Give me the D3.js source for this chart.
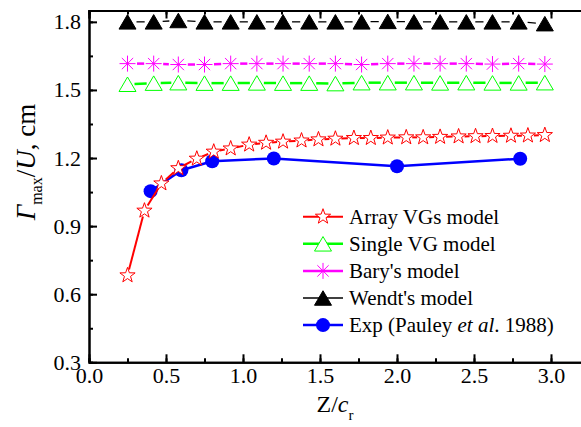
<!DOCTYPE html>
<html>
<head>
<meta charset="utf-8">
<script src="https://cdn.jsdelivr.net/npm/d3@7"></script>
<style>
  body { margin: 0; background: #fff; }
</style>
</head>
<body>
<div id="chart"></div>
<script>
// Data
const arrayX = [0.25, 0.36, 0.47, 0.58, 0.70, 0.81, 0.92, 1.04, 1.15, 1.26, 1.38, 1.49, 1.60, 1.72, 1.83, 1.94, 2.06, 2.17, 2.28, 2.40, 2.51, 2.62, 2.74, 2.85, 2.96];
const arrayY = [0.683, 0.968, 1.088, 1.155, 1.197, 1.228, 1.242, 1.259, 1.267, 1.272, 1.277, 1.282, 1.285, 1.288, 1.288, 1.290, 1.291, 1.291, 1.293, 1.295, 1.296, 1.297, 1.298, 1.299, 1.301];

const modelX = [0.25, 0.42, 0.58, 0.75, 0.92, 1.09, 1.26, 1.43, 1.60, 1.77, 1.94, 2.11, 2.28, 2.45, 2.62, 2.79, 2.96];
const singleY = [1.525, 1.530, 1.532, 1.530, 1.530, 1.531, 1.530, 1.530, 1.528, 1.532, 1.532, 1.532, 1.531, 1.532, 1.531, 1.531, 1.532];
const baryY = [1.616, 1.616, 1.612, 1.612, 1.616, 1.616, 1.616, 1.616, 1.616, 1.612, 1.616, 1.616, 1.616, 1.616, 1.614, 1.616, 1.614];
const wendtY = [1.800, 1.800, 1.806, 1.800, 1.800, 1.800, 1.800, 1.800, 1.800, 1.800, 1.802, 1.800, 1.800, 1.800, 1.800, 1.800, 1.792];

const expX = [0.4, 0.6, 0.8, 1.2, 2.0, 2.8];
const expY = [1.054, 1.146, 1.186, 1.198, 1.164, 1.197];

const xTicks = [0.0, 0.5, 1.0, 1.5, 2.0, 2.5, 3.0];
const yTicks = [0.3, 0.6, 0.9, 1.2, 1.5, 1.8];

const width = 581, height = 427;
const margin = { top: 10.5, left: 89, bottom: 64.7 };
const serif = "'Liberation Serif', 'DejaVu Serif', Tinos, Times, serif";

const svg = d3.select("#chart").append("svg")
  .attr("width", width)
  .attr("height", height)
  .attr("font-family", serif);

const x = d3.scaleLinear().domain([0, 3.2]).range([margin.left, margin.left + 3.2 * 154]);
const y = d3.scaleLinear().domain([0.3, 1.85]).range([height - margin.bottom, margin.top]);

// marker shapes
function starPath(r) {
  const pts = [];
  for (let i = 0; i < 10; i++) {
    const a = -Math.PI / 2 + i * Math.PI / 5;
    const rr = i % 2 === 0 ? r : r * 0.4;
    pts.push([rr * Math.cos(a), rr * Math.sin(a)]);
  }
  return "M" + pts.map(p => p[0].toFixed(2) + "," + p[1].toFixed(2)).join("L") + "Z";
}
function trianglePath(w, h) {
  return `M0,${-h / 2}L${w / 2},${h / 2}L${-w / 2},${h / 2}Z`;
}
function asteriskPath(r) {
  let s = "";
  for (let i = 0; i < 4; i++) {
    const a = i * Math.PI / 4;
    const dx = r * Math.cos(a), dy = r * Math.sin(a);
    s += `M${-dx},${-dy}L${dx},${dy}`;
  }
  return s;
}

const series = [
  { name: "Array VGs model", xs: arrayX, ys: arrayY, color: "#ff0000", lw: 2,
    marker: starPath(8), fill: "#fff", mw: 1, gap: 6 },
  { name: "Single VG model", xs: modelX, ys: singleY, color: "#00ff00", lw: 2.5,
    marker: trianglePath(17, 14.5), fill: "#fff", mw: 1, gap: 7 },
  { name: "Bary's model", xs: modelX, ys: baryY, color: "#ff00ff", lw: 2.5,
    marker: asteriskPath(8), fill: "none", mw: 1, gap: 9.5 },
  { name: "Wendt's model", xs: modelX, ys: wendtY, color: "#000000", lw: 1.3,
    marker: trianglePath(17, 14.5), fill: "#000", mw: 1, gap: 9 },
  { name: "Exp", xs: expX, ys: expY, color: "#0000ff", lw: 2.5,
    marker: "circle", fill: "#0000ff", mw: 0, gap: 0 }
];

function drawMarker(g, s, cx, cy) {
  if (s.marker === "circle") {
    g.append("circle").attr("cx", cx).attr("cy", cy).attr("r", 7)
      .attr("fill", s.fill);
  } else {
    g.append("path").attr("d", s.marker)
      .attr("transform", `translate(${cx},${cy})`)
      .attr("fill", s.fill)
      .attr("stroke", s.color)
      .attr("stroke-width", s.mw);
  }
}

// line segments between markers, leaving a small gap around each marker
function gapSegments(pts, gap) {
  const segs = [];
  for (let j = 0; j < pts.length - 1; j++) {
    const x0 = x(pts[j][0]), y0 = y(pts[j][1]);
    const x1 = x(pts[j + 1][0]), y1 = y(pts[j + 1][1]);
    const len = Math.hypot(x1 - x0, y1 - y0);
    if (len <= 2 * gap + 0.5) continue;
    const ux = (x1 - x0) / len, uy = (y1 - y0) / len;
    segs.push([[x0 + ux * gap, y0 + uy * gap], [x1 - ux * gap, y1 - uy * gap]]);
  }
  return segs;
}

const seg = d3.line();

// draw Exp first, then the models so stars sit above the circles
const drawOrder = [4, 3, 2, 1, 0];
drawOrder.forEach(i => {
  const s = series[i];
  const pts = s.xs.map((v, j) => [v, s.ys[j]]);
  const g = svg.append("g");
  g.selectAll("path.seg")
    .data(gapSegments(pts, s.gap))
    .enter()
    .append("path")
    .attr("class", "seg")
    .attr("d", seg)
    .attr("fill", "none")
    .attr("stroke", s.color)
    .attr("stroke-width", s.lw);
  pts.forEach(p => drawMarker(g, s, x(p[0]), y(p[1])));
});

// axes
const xMinor = d3.range(0, 3.21, 0.25);
const yMinor = d3.range(0.3, 1.851, 0.15);

svg.append("g")
  .attr("transform", `translate(0,${y(0.3)})`)
  .call(d3.axisBottom(x).tickValues(xMinor).tickSize(-4).tickFormat(""));
svg.append("g")
  .attr("transform", `translate(0,${y(0.3)})`)
  .call(d3.axisBottom(x).tickValues(xTicks).tickSizeInner(-8).tickSizeOuter(0)
    .tickPadding(5).tickFormat(d3.format(".1f")));
svg.append("g")
  .attr("transform", `translate(0,${margin.top})`)
  .call(d3.axisTop(x).tickValues(xMinor).tickSize(-4).tickFormat(""));
svg.append("g")
  .attr("transform", `translate(0,${margin.top})`)
  .call(d3.axisTop(x).tickValues(xTicks).tickSize(-8).tickFormat(""));

svg.append("g")
  .attr("transform", `translate(${margin.left},0)`)
  .call(d3.axisLeft(y).tickValues(yMinor).tickSize(-4).tickFormat(""));
svg.append("g")
  .attr("transform", `translate(${margin.left},0)`)
  .call(d3.axisLeft(y).tickValues(yTicks).tickSizeInner(-8).tickSizeOuter(0)
    .tickPadding(8).tickFormat(d3.format(".1f")));

svg.selectAll(".domain").attr("stroke", "#000").attr("stroke-width", 2);
svg.selectAll(".tick line").attr("stroke", "#000").attr("stroke-width", 2);
svg.selectAll(".tick text")
  .attr("fill", "#000")
  .attr("font-family", serif)
  .attr("font-size", 22);

// x title
const xt = svg.append("text")
  .attr("x", 335)
  .attr("y", 412)
  .attr("text-anchor", "middle")
  .attr("font-size", 24);
xt.append("tspan").text("Z/");
xt.append("tspan").attr("font-style", "italic").text("c");
xt.append("tspan").attr("dy", 8).attr("font-size", 15).text("r");

// y title
const yt = svg.append("text")
  .attr("transform", "translate(35,162) rotate(-90)")
  .attr("text-anchor", "middle")
  .attr("font-size", 27);
yt.append("tspan").attr("font-style", "italic").text("Γ");
yt.append("tspan").attr("dy", 7).attr("font-size", 16).text("max");
yt.append("tspan").attr("dy", -7).text("/");
yt.append("tspan").attr("font-style", "italic").text("U");
yt.append("tspan").text(", cm");

// legend
const legend = svg.append("g");
const legendNames = ["Array VGs model", "Single VG model", "Bary's model", "Wendt's model", "Exp"];
legendNames.forEach((name, i) => {
  const s = series[i];
  const cy = 216.7 + i * 27.1;
  legend.append("line")
    .attr("x1", 303).attr("x2", 343)
    .attr("y1", cy).attr("y2", cy)
    .attr("stroke", s.color).attr("stroke-width", s.lw);
  drawMarker(legend, s, 323, cy);
  const t = legend.append("text")
    .attr("x", 349).attr("y", cy)
    .attr("dy", "0.35em")
    .attr("font-size", 21);
  if (i === 4) {
    t.append("tspan").text("Exp (Pauley ");
    t.append("tspan").attr("font-style", "italic").text("et al");
    t.append("tspan").text(". 1988)");
  } else {
    t.text(name);
  }
});
</script>
</body>
</html>
